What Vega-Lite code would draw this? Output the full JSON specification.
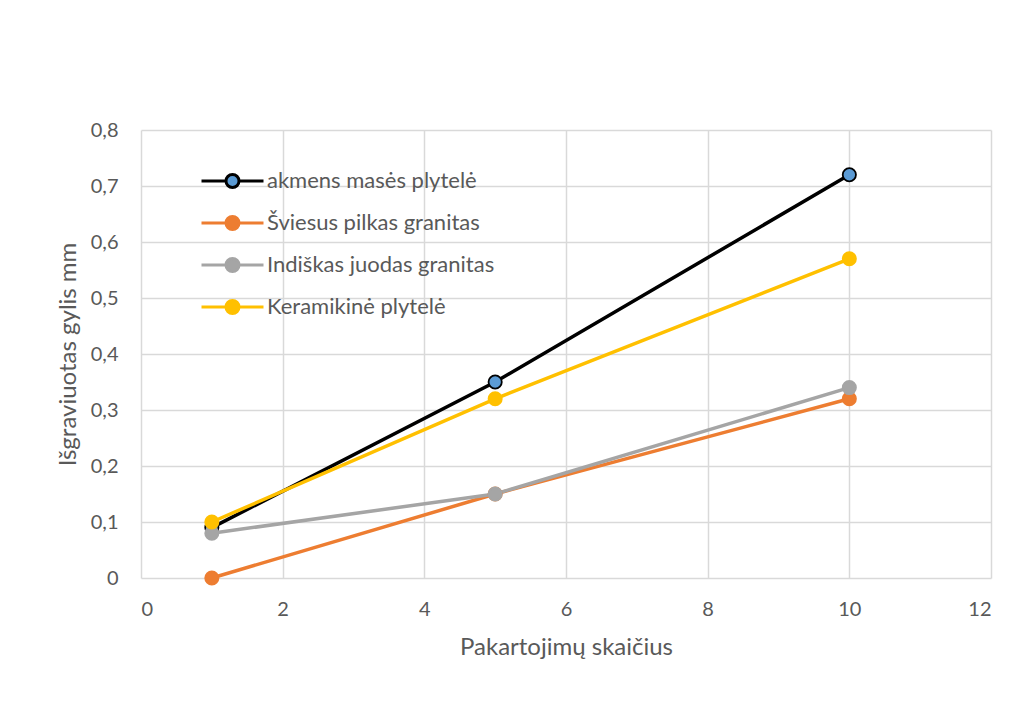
{
  "$schema": "https://vega.github.io/schema/vega-lite/v6.json",
  "width": 850,
  "height": 448,
  "autosize": {"type": "none"},
  "padding": {"left": 141, "top": 130, "right": 25, "bottom": 139},
  "background": "white",
  "config": {
    "locale": {"number": {"decimal": ",", "thousands": " ", "grouping": [3], "currency": ["", " €"]}},
    "view": {"stroke": null},
    "font": "Lato",
    "axis": {
      "grid": true,
      "gridColor": "#d9d9d9",
      "gridWidth": 1.5,
      "domain": false,
      "ticks": false,
      "labelColor": "#595959",
      "labelFontSize": 20,
      "labelFont": "Lato",
      "titleColor": "#595959",
      "titleFontSize": 24,
      "titleFont": "Lato",
      "titleFontWeight": "normal"
    },
    "legend": {
      "title": null,
      "orient": "none",
      "legendX": 59,
      "legendY": 36,
      "padding": 0,
      "symbolType": "M-1,0H-0.21M0.21,0H1M-0.21,0A0.21,0.21 0 1,0 0.21,0A0.21,0.21 0 1,0 -0.21,0Z",
      "symbolSize": 3844,
      "symbolStrokeWidth": 3,
      "symbolOpacity": 1,
      "clipHeight": 30,
      "rowPadding": 12,
      "labelOffset": 2,
      "labelFontSize": 22,
      "labelFont": "Lato",
      "labelColor": "#595959",
      "labelLimit": 400
    }
  },
  "data": {
    "values": [
      {"series": "akmens masės plytelė", "kartai": 1, "gylis": 0.09},
      {"series": "akmens masės plytelė", "kartai": 5, "gylis": 0.35},
      {"series": "akmens masės plytelė", "kartai": 10, "gylis": 0.72},
      {"series": "Šviesus pilkas granitas", "kartai": 1, "gylis": 0.0},
      {"series": "Šviesus pilkas granitas", "kartai": 5, "gylis": 0.15},
      {"series": "Šviesus pilkas granitas", "kartai": 10, "gylis": 0.32},
      {"series": "Indiškas juodas granitas", "kartai": 1, "gylis": 0.08},
      {"series": "Indiškas juodas granitas", "kartai": 5, "gylis": 0.15},
      {"series": "Indiškas juodas granitas", "kartai": 10, "gylis": 0.34},
      {"series": "Keramikinė plytelė", "kartai": 1, "gylis": 0.10},
      {"series": "Keramikinė plytelė", "kartai": 5, "gylis": 0.32},
      {"series": "Keramikinė plytelė", "kartai": 10, "gylis": 0.57}
    ]
  },
  "encoding": {
    "x": {
      "field": "kartai",
      "type": "quantitative",
      "scale": {"domain": [0, 12], "nice": false},
      "axis": {"values": [0, 2, 4, 6, 8, 10, 12], "labelPadding": 21, "title": "Pakartojimų skaičius", "titlePadding": 16}
    },
    "y": {
      "field": "gylis",
      "type": "quantitative",
      "scale": {"domain": [0, 0.8], "nice": false},
      "axis": {"values": [0, 0.1, 0.2, 0.3, 0.4, 0.5, 0.6, 0.7, 0.8], "format": ".1~f", "labelPadding": 23, "title": "Išgraviuotas gylis mm", "titlePadding": 10}
    }
  },
  "layer": [
    {
      "mark": {"type": "line", "strokeWidth": 3.5},
      "encoding": {
        "stroke": {
          "field": "series",
          "type": "nominal",
          "sort": null,
          "scale": {
            "domain": ["akmens masės plytelė", "Šviesus pilkas granitas", "Indiškas juodas granitas", "Keramikinė plytelė"],
            "range": ["#000000", "#ed7d31", "#a5a5a5", "#ffc000"]
          }
        }
      }
    },
    {
      "mark": {"type": "point", "filled": true, "size": 175, "strokeWidth": 1.8, "opacity": 1},
      "encoding": {
        "fill": {
          "field": "series",
          "type": "nominal",
          "sort": null,
          "scale": {
            "domain": ["akmens masės plytelė", "Šviesus pilkas granitas", "Indiškas juodas granitas", "Keramikinė plytelė"],
            "range": ["#5b9bd5", "#ed7d31", "#a5a5a5", "#ffc000"]
          }
        },
        "stroke": {
          "field": "series",
          "type": "nominal",
          "sort": null,
          "scale": {
            "domain": ["akmens masės plytelė", "Šviesus pilkas granitas", "Indiškas juodas granitas", "Keramikinė plytelė"],
            "range": ["#000000", "#ed7d31", "#a5a5a5", "#ffc000"]
          }
        }
      }
    }
  ],
  "resolve": {"scale": {"stroke": "shared"}}
}
